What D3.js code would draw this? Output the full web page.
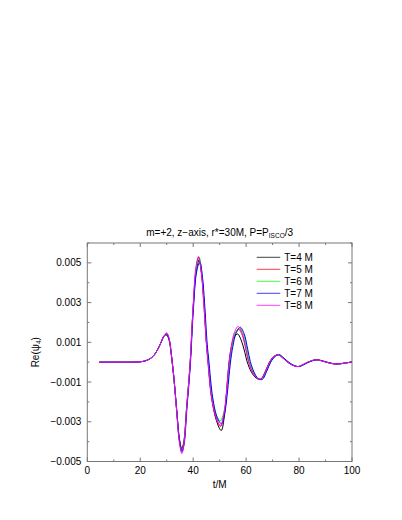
<!DOCTYPE html>
<html>
<head>
<meta charset="utf-8">
<script src="https://cdn.jsdelivr.net/npm/d3@7"></script>
<style>
body{margin:0;background:#fff;}
text{font-family:"Liberation Sans",Arial,sans-serif;fill:#000;}
</style>
</head>
<body>
<svg width="402" height="520"></svg>
<script>
// values of Re(psi4) below are in units of 1e-3
const seriesNames=['T=4 M','T=5 M','T=6 M','T=7 M','T=8 M'];
const seriesColors=['#000000','#ff0000','#00ff00','#0000ff','#ff00ff'];
const xTicks=[0,20,40,60,80,100];
const yTicks=[-0.005,-0.003,-0.001,0.001,0.003,0.005];

// quiet part before the pulse, the same for every run
const onset=[[4.5,0],[10,0],[15,0],[18,0.005],[20,0.02],[22,0.07],[24,0.2],[25.5,0.4],[27,0.75],[28,1.04],[29,1.32]];

const wT4=[[30,1.36],[31,1.05],[31.5,0.62],[32,0.05],[32.5,-0.55],[33,-1.25],[33.8,-2.45],[34.8,-3.85],[35.7,-4.35],[36.5,-3.95],[37.5,-2.3],[38.8,-0.15],[40,2.75],[41.2,4.6],[42.2,5.15],[43.2,4.4],[44,3.2],[45,1.0],[45.5,0.2],[47,-1.8],[48.8,-2.95],[50.6,-3.44],[51.8,-2.7],[52.5,-1.7],[53.2,-0.5],[54,0.45],[55.5,1.25],[56.8,1.42],[58,1.15],[59.5,0.5],[60.4,0.02],[62,-0.5],[63.8,-0.8],[65.5,-0.86],[67.3,-0.45],[68.8,0],[70.4,0.28],[72.1,0.37],[74,0.2],[75.7,0],[77.5,-0.15],[79.6,-0.22],[81.5,-0.12],[83.3,0],[86.2,0.12],[88.5,0.07],[90.3,0],[92.5,-0.07],[94.6,-0.09],[97,-0.05],[100,0.01]];
const wT5=[[30,1.42],[31,1.1],[31.5,0.66],[32,0.08],[32.5,-0.52],[33,-1.22],[33.8,-2.5],[34.8,-3.95],[35.7,-4.45],[36.5,-4.05],[37.5,-2.35],[38.8,-0.15],[40,2.8],[41.1,4.7],[42.1,5.28],[43.1,4.55],[44,3.0],[45,1.0],[45.6,0.15],[47,-1.8],[48.8,-2.85],[50.4,-3.22],[51.7,-2.6],[52.6,-1.55],[53.6,-0.2],[54.5,0.75],[55.7,1.4],[57.2,1.66],[58.6,1.35],[60,0.6],[61,0.03],[62.5,-0.5],[64,-0.8],[65.7,-0.85],[67.5,-0.45],[69,0],[70.6,0.28],[72.2,0.38],[74,0.2],[75.8,0],[77.6,-0.15],[79.7,-0.22],[81.6,-0.12],[83.4,0],[86.3,0.12],[88.6,0.07],[90.4,0],[92.6,-0.07],[94.7,-0.09],[97,-0.05],[100,0.01]];
const wT6=[[30,1.44],[31,1.12],[31.5,0.68],[32,0.1],[32.5,-0.5],[33,-1.2],[33.8,-2.5],[34.8,-4.0],[35.7,-4.5],[36.5,-4.1],[37.5,-2.4],[38.8,-0.2],[40,2.75],[41.1,4.7],[42.2,5.3],[43.2,4.6],[44,3.2],[45.1,1.0],[45.7,0.15],[47.1,-1.7],[48.8,-2.65],[50.2,-2.96],[51.7,-2.45],[52.7,-1.5],[53.8,-0.1],[54.8,0.85],[56,1.45],[57.5,1.74],[58.9,1.45],[60.3,0.65],[61.3,0.03],[62.8,-0.5],[64.3,-0.8],[66,-0.85],[67.7,-0.45],[69.2,0],[70.8,0.28],[72.4,0.38],[74.2,0.2],[76,0],[77.8,-0.15],[79.9,-0.22],[81.8,-0.12],[83.6,0],[86.5,0.12],[88.7,0.07],[90.5,0],[92.7,-0.07],[94.8,-0.09],[97,-0.05],[100,0.01]];
const wT7=[[30,1.42],[31,1.12],[31.5,0.7],[32,0.12],[32.5,-0.48],[33,-1.18],[33.8,-2.45],[34.9,-4.0],[35.8,-4.5],[36.6,-4.1],[37.6,-2.4],[38.9,-0.2],[40.1,2.7],[41.3,4.55],[42.5,5.05],[43.5,4.3],[44.3,3.0],[45.3,0.9],[45.9,0.1],[47.4,-1.8],[49.1,-2.8],[50.7,-3.1],[52,-2.5],[53,-1.45],[54,-0.1],[55,0.8],[56.2,1.45],[57.8,1.76],[59.2,1.45],[60.6,0.65],[61.6,0.03],[63,-0.5],[64.5,-0.82],[66.1,-0.87],[67.8,-0.45],[69.3,0],[70.9,0.28],[72.5,0.38],[74.3,0.2],[76.1,0],[77.9,-0.15],[80,-0.22],[81.9,-0.12],[83.7,0],[86.6,0.12],[88.8,0.07],[90.6,0],[92.8,-0.07],[94.9,-0.09],[97.1,-0.05],[100,0.01]];
const wT8=[[30,1.48],[31,1.15],[31.5,0.7],[32,0.1],[32.5,-0.5],[33,-1.22],[33.8,-2.55],[34.8,-4.05],[35.7,-4.6],[36.5,-4.15],[37.5,-2.4],[38.8,-0.15],[40,2.85],[41,4.75],[42,5.32],[43,4.6],[43.8,3.35],[45,0.9],[45.5,0.1],[47,-1.85],[48.8,-2.85],[50.2,-3.22],[51.6,-2.6],[52.5,-1.6],[53.4,-0.25],[54.4,0.8],[55.6,1.5],[57,1.8],[58.5,1.45],[59.9,0.65],[60.9,0.03],[62.4,-0.5],[64,-0.8],[65.6,-0.84],[67.4,-0.45],[68.9,0],[70.5,0.28],[72.1,0.38],[73.9,0.2],[75.7,0],[77.5,-0.15],[79.6,-0.22],[81.5,-0.12],[83.3,0],[86.2,0.12],[88.5,0.07],[90.3,0],[92.5,-0.07],[94.6,-0.09],[97,-0.05],[100,0.01]];

const waves=[wT4,wT5,wT6,wT7,wT8];

const svg=d3.select('svg');
const margin={top:243,right:50,bottom:58.5,left:87.3};
const width=+svg.attr('width');
const height=+svg.attr('height');
const innerW=width-margin.left-margin.right;
const innerH=height-margin.top-margin.bottom;

const xScale=d3.scaleLinear().domain([0,100]).range([0,innerW]);
const yScale=d3.scaleLinear().domain([-0.005,0.006]).range([innerH,0]);

const g=svg.append('g').attr('transform',`translate(${margin.left},${margin.top})`);

/* frame */
g.append('rect')
  .attr('width',innerW).attr('height',innerH)
  .attr('fill','none').attr('stroke','#777').attr('stroke-width',1);

/* ticks: inside, on all four sides */
const tickCol='#777';
const xMinor=d3.range(10,100,20);
const yMinor=d3.range(-0.004,0.0061,0.002);
const tk=(data,fn)=>g.append('g').selectAll('line').data(data).enter().append('line')
  .attr('stroke',tickCol).attr('stroke-width',1).each(fn);
tk(xTicks,function(d){d3.select(this).attr('x1',xScale(d)).attr('x2',xScale(d)).attr('y1',innerH).attr('y2',innerH-4)});
tk(xTicks,function(d){d3.select(this).attr('x1',xScale(d)).attr('x2',xScale(d)).attr('y1',0).attr('y2',4)});
tk(xMinor,function(d){d3.select(this).attr('x1',xScale(d)).attr('x2',xScale(d)).attr('y1',innerH).attr('y2',innerH-2)});
tk(xMinor,function(d){d3.select(this).attr('x1',xScale(d)).attr('x2',xScale(d)).attr('y1',0).attr('y2',2)});
tk(yTicks,function(d){d3.select(this).attr('y1',yScale(d)).attr('y2',yScale(d)).attr('x1',0).attr('x2',4)});
tk(yTicks,function(d){d3.select(this).attr('y1',yScale(d)).attr('y2',yScale(d)).attr('x1',innerW).attr('x2',innerW-4)});
tk(yMinor,function(d){d3.select(this).attr('y1',yScale(d)).attr('y2',yScale(d)).attr('x1',0).attr('x2',2)});
tk(yMinor,function(d){d3.select(this).attr('y1',yScale(d)).attr('y2',yScale(d)).attr('x1',innerW).attr('x2',innerW-2)});

/* tick labels */
g.append('g').selectAll('text').data(xTicks).enter().append('text')
  .attr('x',d=>xScale(d)).attr('y',innerH+12)
  .attr('text-anchor','middle').attr('font-size',10)
  .text(d=>d);
g.append('g').selectAll('text').data(yTicks).enter().append('text')
  .attr('x',-6).attr('y',d=>yScale(d)+3.5)
  .attr('text-anchor','end').attr('font-size',10)
  .text(d=>d3.format('.3f')(d));

/* curves */
const line=d3.line()
  .x(d=>xScale(d[0]))
  .y(d=>yScale(d[1]*1e-3))
  .curve(d3.curveCatmullRom.alpha(0.5));
waves.forEach((w,i)=>{
  g.append('path')
    .datum(onset.concat(w))
    .attr('fill','none')
    .attr('stroke',seriesColors[i])
    .attr('stroke-width',1)
    .attr('d',line);
});

/* legend */
const leg=g.append('g').attr('transform','translate(169.4,14.3)');
seriesNames.forEach((n,i)=>{
  leg.append('line').attr('x1',0).attr('x2',23.5).attr('y1',i*12).attr('y2',i*12)
    .attr('stroke',seriesColors[i]).attr('stroke-width',1).attr('stroke-opacity',0.75);
  leg.append('text').attr('x',27.5).attr('y',i*12+3.6).attr('font-size',10).text(n);
});

/* titles */
const title=svg.append('text').attr('x',margin.left+innerW/2).attr('y',235.5)
  .attr('text-anchor','middle').attr('font-size',10);
title.append('tspan').text('m=+2, z\u2212axis, r*=30M, P=P');
title.append('tspan').attr('font-size',6.5).attr('dy',2).text('ISCO');
title.append('tspan').attr('dy',-2).text('/3');

svg.append('text').attr('x',margin.left+innerW/2).attr('y',488)
  .attr('text-anchor','middle').attr('font-size',10).text('t/M');

const yl=svg.append('text').attr('transform',`translate(38.5,${margin.top+innerH/2}) rotate(-90)`)
  .attr('text-anchor','middle').attr('font-size',10);
yl.append('tspan').text('Re(\u03c8');
yl.append('tspan').attr('font-size',6.5).attr('dy',2).text('4');
yl.append('tspan').attr('dy',-2).text(')');
</script>
</body>
</html>
